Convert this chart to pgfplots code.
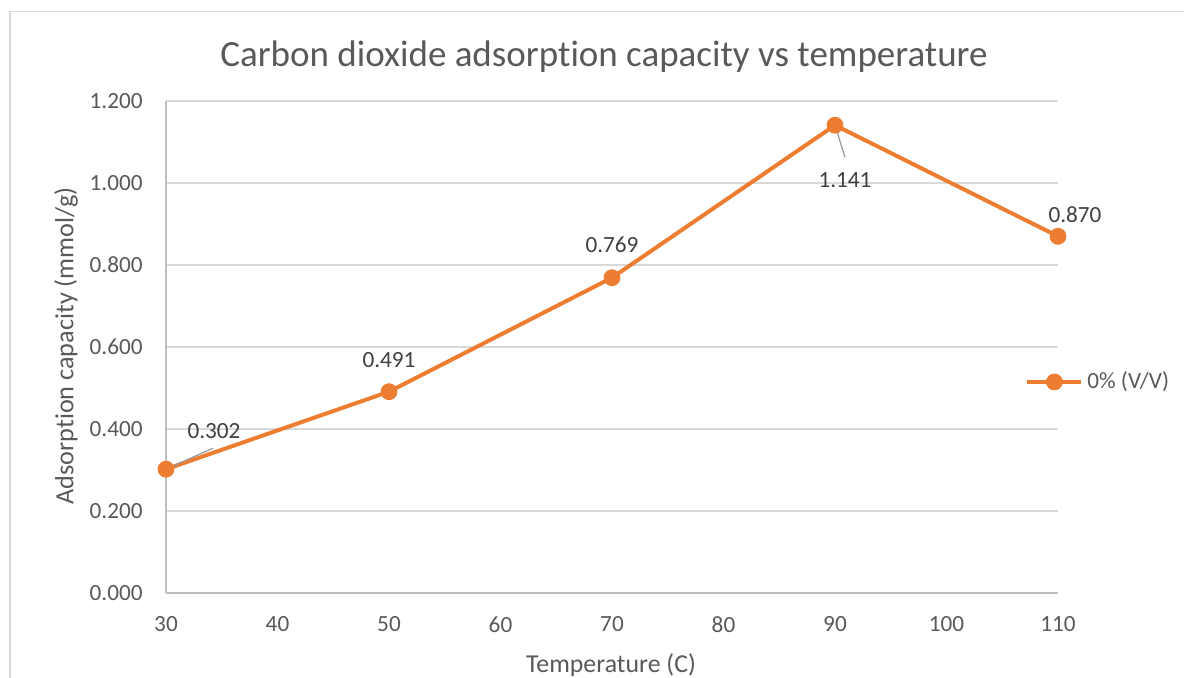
\documentclass[border=0pt]{standalone}
\usepackage{pgfplots}
\pgfplotsset{compat=1.18}
\usepackage{fontspec}
\setmainfont[Ligatures={NoCommon}]{Carlito}
\definecolor{xlorange}{HTML}{ED7D31}
\definecolor{xltext}{HTML}{595959}
\definecolor{xllabel}{HTML}{404040}
\definecolor{xlgrid}{HTML}{D9D9D9}
\definecolor{xlaxis}{HTML}{BFBFBF}
\newcommand{\tickfont}{\fontsize{11.6pt}{13pt}\selectfont}
\begin{document}
\begin{tikzpicture}
% pixel (px,py) -> (0.5px pt, 0.5(677-py) pt)
\path[use as bounding box] (0,0) rectangle (592pt,338.5pt);
\draw[xlgrid, line width=0.8pt] (5pt,-10pt) -- (5pt,332.75pt) -- (600pt,332.75pt);
\begin{axis}[
  at={(83pt,42pt)}, anchor=south west,
  scale only axis, width=446pt, height=246pt,
  xmin=30, xmax=110, ymin=0, ymax=1.2,
  xtick={30,40,...,110},
  ytick={0,0.2,...,1.2},
  axis x line*=bottom, axis y line*=left,
  axis line style={xlaxis, line width=0.8pt, -},
  major tick length=0pt,
  ymajorgrids, grid style={xlgrid, line width=0.8pt},
  /pgf/number format/assume math mode=true,
  yticklabel style={/pgf/number format/.cd, fixed, fixed zerofill, precision=3, /tikz/.cd},
  scaled y ticks=false,
  tick label style={font=\tickfont, text=xltext},
  xticklabel style={anchor=north, inner sep=0pt, yshift=-11.5pt},
  yticklabel style={anchor=east, inner sep=0pt, xshift=-11.5pt},
  legend style={at={(0.963,0.429)}, anchor=west, draw=none, fill=none,
    font=\tickfont, text=xltext, inner sep=0pt, cells={anchor=west}},
  legend image code/.code={%
    \draw[#1, mark repeat=2, mark phase=2] plot coordinates {(0pt,0pt) (13.5pt,0pt) (27pt,0pt)};},
  clip=false,
]
\addplot[xlorange, line width=2pt, mark=*, mark size=4pt, mark options={solid, fill=xlorange, draw=xlorange, line width=0.4pt}]
  coordinates {(30,0.302) (50,0.491) (70,0.769) (90,1.141) (110,0.870)};
\addlegendentry{0\% (V/V)}
\draw[gray!80, line width=0.6pt] (axis cs:30,0.302) -- ++(23.5pt,10.5pt);
\draw[gray!80, line width=0.6pt] (axis cs:90,1.141) -- ++(5pt,-16pt);
\node[font=\tickfont, text=xllabel, inner sep=0pt] at ([xshift=24pt, yshift=19pt]axis cs:30,0.302) {0.302};
\node[font=\tickfont, text=xllabel, inner sep=0pt] at ([yshift=16pt]axis cs:50,0.491) {0.491};
\node[font=\tickfont, text=xllabel, inner sep=0pt] at ([yshift=16.5pt]axis cs:70,0.769) {0.769};
\node[font=\tickfont, text=xllabel, inner sep=0pt] at ([xshift=5pt, yshift=-27.5pt]axis cs:90,1.141) {1.141};
\node[font=\tickfont, text=xllabel, inner sep=0pt] at ([xshift=8.5pt, yshift=11pt]axis cs:110,0.870) {0.870};
\end{axis}
\node[font=\fontsize{18.5pt}{21pt}\selectfont, text=xltext, inner sep=0pt] at (302pt,310pt) {Carbon dioxide adsorption capacity vs temperature};
\node[font=\fontsize{12.9pt}{15pt}\selectfont, text=xltext, inner sep=0pt] at (305.5pt,6pt) {Temperature (C)};
\node[font=\fontsize{13.1pt}{15pt}\selectfont, text=xltext, inner sep=0pt, rotate=90] at (33pt,165.5pt) {Adsorption capacity (mmol/g)};
\end{tikzpicture}
\end{document}
